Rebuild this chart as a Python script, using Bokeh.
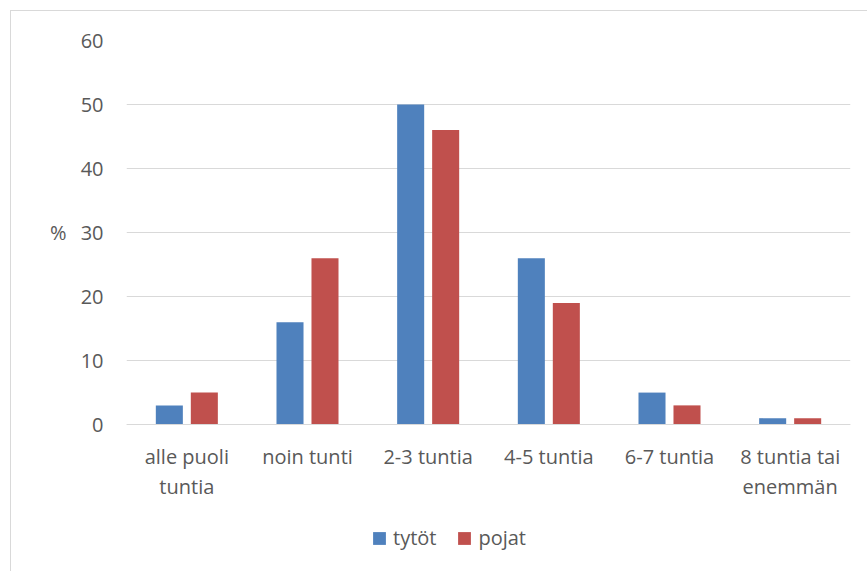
from bokeh.plotting import figure
from bokeh.models import FactorRange, Range1d, Legend, LegendItem, LinearAxis, ColumnDataSource
from bokeh.transform import dodge
from bokeh.embed import file_html
from bokeh.resources import INLINE

categories = ["alle puoli\ntuntia", "noin tunti", "2-3 tuntia", "4-5 tuntia", "6-7 tuntia", "8 tuntia tai\nenemmän"]
tytot = [3, 16, 50, 26, 5, 1]
pojat = [5, 26, 46, 19, 3, 1]
series_names = ["tytöt", "pojat"]
y_ticks = [0, 10, 20, 30, 40, 50, 60]
y_title = "%"

FONT = "Open Sans"
FS = "20px"
TXT = "#595959"
GRID = "#d9d9d9"

src = ColumnDataSource(dict(cat=categories, tytot=tytot, pojat=pojat))

# frame extends below 0 so that the category labels and legend sit inside it
p = figure(
    x_range=FactorRange(*categories, range_padding=0, factor_padding=0),
    y_range=Range1d(-21.7, 60),
    width=857, height=561,
    output_backend="svg", toolbar_location=None,
    min_border_left=115, min_border_right=18, min_border_top=29, min_border_bottom=9,
)
p.styles = {"margin-left": "10px", "margin-top": "10px",
            "border-left": "1px solid #d9d9d9", "border-top": "1px solid #d9d9d9"}
p.outline_line_color = None
p.background_fill_color = "white"
p.border_fill_color = "white"

r1 = p.vbar(x=dodge("cat", -0.145, range=p.x_range), top="tytot", width=0.224,
            source=src, fill_color="#4F81BD", line_color=None)
r2 = p.vbar(x=dodge("cat", 0.145, range=p.x_range), top="pojat", width=0.224,
            source=src, fill_color="#C0504D", line_color=None)

# y axis
p.yaxis.ticker = y_ticks
p.yaxis.axis_line_color = None
p.yaxis.major_tick_line_color = None
p.yaxis.major_tick_out = 0
p.yaxis.minor_tick_line_color = None
p.yaxis.major_label_standoff = 23
p.yaxis.major_label_text_font = FONT
p.yaxis.major_label_text_font_size = FS
p.yaxis.major_label_text_color = TXT

# second left axis used only to show the horizontal "%" title
ya2 = LinearAxis(ticker=[30], major_label_overrides={30: y_title},
                 axis_line_color=None, major_tick_line_color=None, major_tick_out=0,
                 minor_tick_line_color=None,
                 major_label_standoff=11, major_label_text_font=FONT,
                 major_label_text_font_size=FS, major_label_text_color=TXT)
p.add_layout(ya2, "left")

# x axis placed at y = 0
p.xaxis.fixed_location = 0
p.xaxis.axis_line_color = GRID
p.xaxis.major_tick_line_color = None
p.xaxis.major_tick_out = 0
p.xaxis.minor_tick_line_color = None
p.xaxis.major_label_standoff = 18
p.xaxis.major_label_text_font = FONT
p.xaxis.major_label_text_font_size = FS
p.xaxis.major_label_text_color = TXT
p.xaxis.major_label_text_line_height = 1.12

p.xgrid.grid_line_color = None
p.ygrid.grid_line_color = GRID
p.ygrid.grid_line_width = 1

legend = Legend(items=[LegendItem(label=series_names[0], renderers=[r1]),
                       LegendItem(label=series_names[1], renderers=[r2])],
                orientation="horizontal", location=(245, 12),
                glyph_width=16, glyph_height=16, label_standoff=6, spacing=20,
                padding=0, margin=0, border_line_color=None, background_fill_alpha=0,
                label_text_font=FONT, label_text_font_size=FS, label_text_color=TXT)
p.add_layout(legend, "center")

open("out.html", "w").write(file_html(p, INLINE))
